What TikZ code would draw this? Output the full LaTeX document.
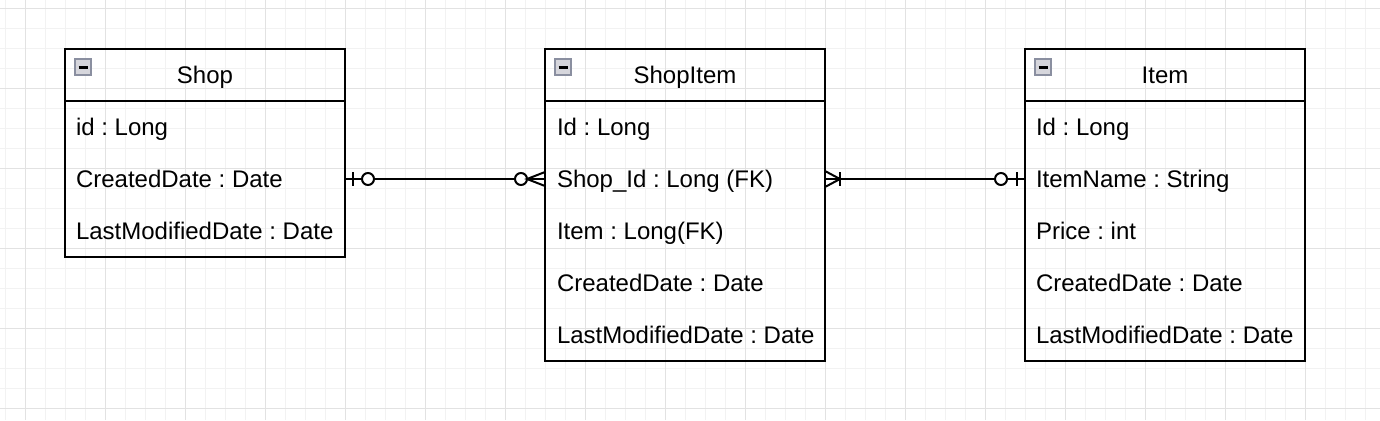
\documentclass[tikz,border=0pt]{standalone}
\usepackage{fontspec}
\setmainfont{Liberation Sans}
\usetikzlibrary{calc}
\definecolor{gridminor}{HTML}{F2F2F2}
\definecolor{gridmajor}{HTML}{E2E2E2}
\definecolor{iconfill}{HTML}{D6D6DC}
\definecolor{iconedge}{HTML}{8A8FA0}
\frenchspacing
\begin{document}
\begin{tikzpicture}
  [x=0.5pt,y=-0.5pt,
   every node/.style={inner sep=0pt,outer sep=0pt,font=\fontsize{12}{14}\selectfont},
   title/.style={draw,line width=1pt,minimum width=140pt,minimum height=26pt,text height=8.6pt,text depth=0pt},
   body/.style={draw,line width=1pt,minimum width=140pt,anchor=north},
   field/.style={anchor=west,text height=8.6pt,text depth=0pt},
   icon/.style={draw=iconedge,fill=iconfill,line width=0.9pt,minimum size=8pt},
   rel/.style={line width=1pt},
   minorgrid/.style={draw=gridminor,line width=0.5pt},
   majorgrid/.style={draw=gridmajor,line width=0.5pt}]

  \useasboundingbox (0,0) rectangle (1380,420);
  \fill[white] (0,0) rectangle (1380,420);
  \foreach \x in {5,25,...,1380} \draw[minorgrid] (\x,0) -- (\x,420);
  \foreach \y in {8,28,...,420} \draw[minorgrid] (0,\y) -- (1380,\y);
  \foreach \x in {25,105,...,1380} \draw[majorgrid] (\x,0) -- (\x,420);
  \foreach \y in {8,88,...,420} \draw[majorgrid] (0,\y) -- (1380,\y);

  \node[title] (Shop) at (205,75) {Shop};
  \node[body,minimum height=78pt] (ShopBody) at (Shop.south) {};
  \node[icon] (ShopIcon) at (83,67) {\rule{4.5pt}{1.5pt}};
  \foreach \text [count=\i] in {id : Long,CreatedDate : Date,LastModifiedDate : Date}
    \node[field] (Shop\i) at (76,75+52*\i) {\text};

  \node[title] (ShopItem) at (685,75) {ShopItem};
  \node[body,minimum height=130pt] (ShopItemBody) at (ShopItem.south) {};
  \node[icon] (ShopItemIcon) at (563,67) {\rule{4.5pt}{1.5pt}};
  \foreach \text [count=\i] in {Id : Long,Shop\_Id : Long (FK),Item : Long(FK),CreatedDate : Date,LastModifiedDate : Date}
    \node[field] (ShopItem\i) at (557,75+52*\i) {\text};

  \node[title] (Item) at (1165,75) {Item};
  \node[body,minimum height=130pt] (ItemBody) at (Item.south) {};
  \node[icon] (ItemIcon) at (1043,67) {\rule{4.5pt}{1.5pt}};
  \foreach \text [count=\i] in {Id : Long,ItemName : String,Price : int,CreatedDate : Date,LastModifiedDate : Date}
    \node[field] (Item\i) at (1036,75+52*\i) {\text};

  \coordinate (shopEnd) at (ShopBody.east |- Shop2.west);
  \coordinate (linkStart) at (ShopItemBody.west |- ShopItem2.west);
  \coordinate (linkEnd) at (ShopItemBody.east |- ShopItem2.west);
  \coordinate (itemEnd) at (ItemBody.west |- Item2.west);

  \draw[rel] (shopEnd) -- (linkStart);
  \draw[rel] (linkEnd) -- (itemEnd);

  % zero or one / zero or many
  \draw[rel] ($(shopEnd)+(8,-7)$) -- ($(shopEnd)+(8,7)$);
  \draw[rel,fill=white] ($(shopEnd)+(23,0)$) circle (3pt);
  \draw[rel,fill=white] ($(linkStart)+(-24,0)$) circle (3pt);
  \draw[rel] ($(linkStart)+(0,-7)$) -- ($(linkStart)+(-18,0)$) -- ($(linkStart)+(0,7)$);

  % one or many / zero or one
  \draw[rel] ($(linkEnd)+(0,-8)$) -- ($(linkEnd)+(15,0)$) -- ($(linkEnd)+(0,8)$);
  \draw[rel] ($(linkEnd)+(15,-7)$) -- ($(linkEnd)+(15,7)$);
  \draw[rel] ($(itemEnd)+(-8,-7)$) -- ($(itemEnd)+(-8,7)$);
  \draw[rel,fill=white] ($(itemEnd)+(-24,0)$) circle (3pt);
\end{tikzpicture}
\end{document}
